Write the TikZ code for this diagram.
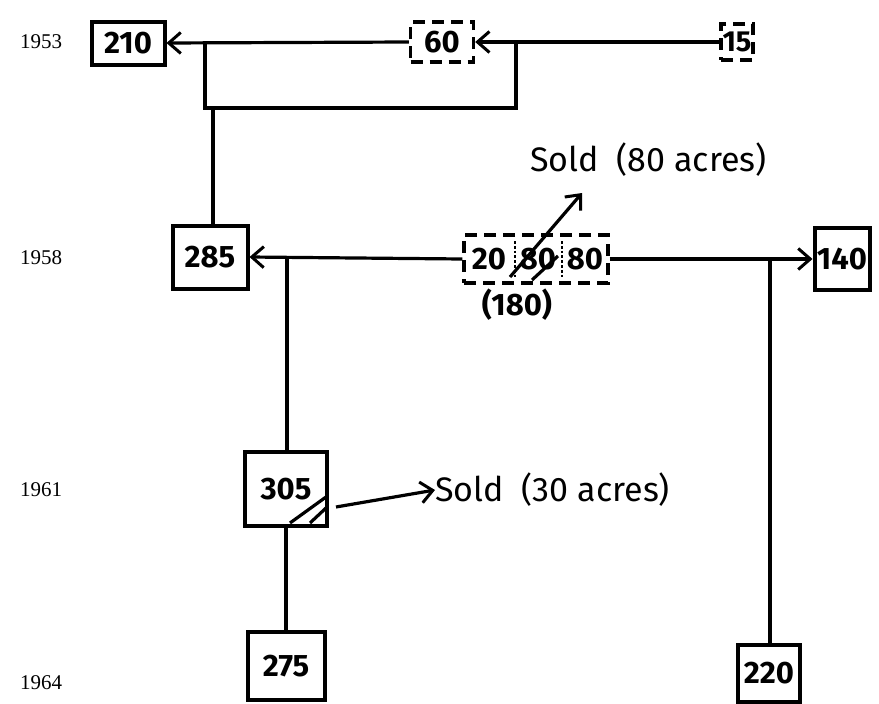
\documentclass[tikz,border=0pt]{standalone}
\usepackage{fontspec}
\setmainfont{Fira Sans}
\newfontfamily\yearfont{Liberation Serif}
\usetikzlibrary{arrows.meta}

\begin{document}
\begin{tikzpicture}[x=1pt, y=-1pt,
  every node/.style={font=\fontsize{31}{31}\selectfont\bfseries, inner sep=0pt},
  yr/.style={font=\yearfont\fontsize{21}{21}\selectfont},
  owned/.style={draw, line width=4pt},
  rented/.style={owned, line width=3.4pt, dash pattern=on 12pt off 7pt},
  flow/.style={line width=3.2pt, -{Straight Barb[length=12pt, width=21pt, line width=3pt]}},
  link/.style={line width=3.2pt},
  note/.style={font=\fontsize{34}{34}\selectfont, anchor=west}
]
\useasboundingbox (0,0) rectangle (879,704);
% years
\node[yr] (y53) at (41,42) {1953};
\node[yr] (y58) at (41,258) {1958};
\node[yr] (y61) at (41,490) {1961};
\node[yr] (y64) at (41,683) {1964};
% 1953
\node[owned, minimum width=73pt, minimum height=43pt] (b210) at (128,43) {210};
\node[rented, minimum width=32pt, minimum height=36pt, font=\fontsize{29}{29}\selectfont\bfseries] (b15) at (737,42) {15};
\node[rented, minimum width=63pt, minimum height=40pt] (b60) at (442,42) {60};
\draw[flow] (b60.west) -- (b210.east);
\draw[flow] (b15.west) -- (b60.east);
\coordinate (loopL) at (205,42);
\coordinate (loopR) at (516,42);
\coordinate (loopB) at (213,108);
\draw[link] (loopL) -- (loopL |- loopB) -- (loopR |- loopB) -- (loopR);
% 1958
\node[owned, minimum width=75pt, minimum height=63pt] (b285) at (210,257) {285};
\node[rented, minimum width=144pt, minimum height=48pt] (b180) at (536,259) {};
\node (p20) at (489,259) {20};
\node (p80a) at (538,259) {80};
\node (p80b) at (585,259) {80};
\draw[line width=2.8pt, dotted] (515,241) -- (515,279);
\draw[line width=2.8pt, dotted] (562,241) -- (562,279);
\draw[link] (532,280) -- (558,256);
\node[owned, minimum width=55pt, minimum height=62pt] (b140) at (842,259) {140};
\node (t180) at (517,305) {(180)};
\node[note] (sold80) at (530,160) {Sold\ \ (80 acres)};
\coordinate (hatch80) at (510,277);
\coordinate (tip80) at (582,193);
\draw[flow] (hatch80) -- (tip80);
\draw[link] (loopB) -- (loopB |- b285.north);
\draw[flow] (b180.west) -- (b285.east);
\draw[flow] (b180.east) -- (b140.west);
\coordinate (j285) at (287,259);
\coordinate (j140) at (770,259);
% 1961
\node[owned, minimum width=82pt, minimum height=74pt] (b305) at (286,489) {305};
\draw[link] (290,523) -- (326,497);
\draw[link] (310,523) -- (326,508);
\node[note] (sold30) at (435,490) {Sold\ \ (30 acres)};
\coordinate (cut305) at (336,507);
\draw[flow] (cut305) -- (sold30.west);
\draw[link] (j285) -- (j285 |- b305.north);
% 1964
\node[owned, minimum width=77pt, minimum height=68pt] (b275) at (286,666) {275};
\node[owned, minimum width=62pt, minimum height=57pt] (b220) at (769,673) {220};
\draw[link] (b305.south) -- (b275.north);
\draw[link] (j140) -- (j140 |- b220.north);
\end{tikzpicture}
\end{document}
